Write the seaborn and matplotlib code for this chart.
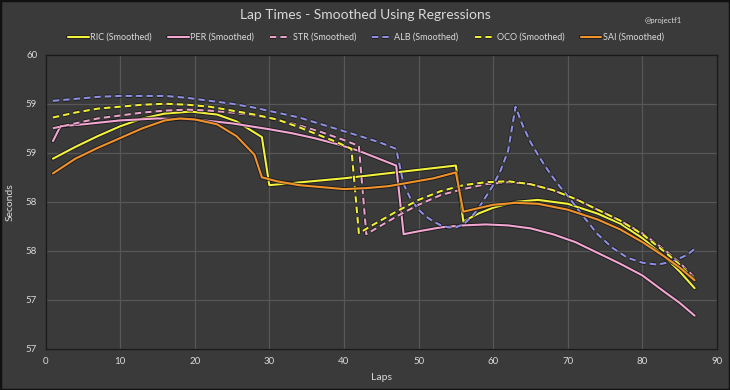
import numpy as np
import pandas as pd
import seaborn as sns
import matplotlib
matplotlib.use("Agg")
import matplotlib.pyplot as plt
import matplotlib.patheffects as pe
from matplotlib.patches import Rectangle

# ---------------- data ----------------
ric_laps = [1, 4, 7, 10, 13, 16, 19.5, 23, 25.6, 29, 30, 40, 55, 56, 58, 60, 63, 66, 70, 74, 77, 80, 83, 85, 87]
ric_secs = [58.94, 59.06, 59.17, 59.27, 59.35, 59.40, 59.42, 59.39, 59.32, 59.16, 58.67, 58.74, 58.87, 58.30, 58.38,
            58.44, 58.50, 58.52, 58.48, 58.38, 58.28, 58.13, 57.94, 57.79, 57.62]

per_laps = [1, 2, 5, 10, 15, 20, 25, 30, 33, 36, 39, 42, 47, 48, 50, 53, 56, 59, 62, 65, 68, 71, 74, 77, 80, 83, 85, 87]
per_secs = [59.12, 59.27, 59.29, 59.33, 59.35, 59.34, 59.30, 59.24, 59.20, 59.15, 59.09, 59.02, 58.87, 58.17, 58.20,
            58.24, 58.26, 58.27, 58.26, 58.23, 58.17, 58.09, 57.98, 57.87, 57.75, 57.58, 57.47, 57.34]

str_laps = [1, 4, 7, 10, 13, 16, 19, 22, 25, 28, 31, 34, 37, 40, 42, 43, 45, 47.5, 50, 53, 56, 59, 62, 65, 68, 71,
            74, 77, 80, 83, 85, 87]
str_secs = [59.25, 59.30, 59.35, 59.38, 59.41, 59.43, 59.44, 59.43, 59.41, 59.38, 59.34, 59.28, 59.21, 59.13, 59.07,
            58.17, 58.26, 58.37, 58.47, 58.57, 58.63, 58.68, 58.70, 58.68, 58.62, 58.53, 58.42, 58.31, 58.18, 58.01,
            57.88, 57.73]

alb_laps = [1, 4, 7, 10, 13, 16, 19, 22, 25, 28, 31, 34, 37, 40, 43, 45, 47, 48, 49, 50, 51, 52, 53, 54, 55, 56, 57,
            58, 59, 60, 61, 62, 63, 64, 65, 66, 67, 68, 69, 70, 72, 74, 76, 78, 80, 82, 84, 86, 87]
alb_secs = [59.53, 59.55, 59.57, 59.58, 59.58, 59.58, 59.56, 59.53, 59.50, 59.46, 59.41, 59.36, 59.29, 59.22, 59.15,
            59.10, 59.04, 58.68, 58.52, 58.42, 58.35, 58.30, 58.26, 58.24, 58.24, 58.27, 58.34, 58.43, 58.55, 58.67,
            58.82, 59.02, 59.47, 59.27, 59.11, 58.98, 58.86, 58.75, 58.65, 58.56, 58.36, 58.17, 58.03, 57.93, 57.88,
            57.86, 57.89, 57.96, 58.02]

oco_laps = [1, 4, 7, 10, 13, 16, 19, 22, 25, 28, 31, 34, 37, 39, 41, 42, 44, 47, 50, 53, 56, 59, 62, 65, 68, 71, 74,
            77, 80, 83, 85, 87]
oco_secs = [59.36, 59.41, 59.45, 59.47, 59.49, 59.50, 59.49, 59.47, 59.43, 59.39, 59.34, 59.26, 59.17, 59.11, 59.04,
            58.18, 58.27, 58.40, 58.52, 58.61, 58.67, 58.70, 58.71, 58.68, 58.62, 58.53, 58.42, 58.31, 58.17, 57.99,
            57.86, 57.71]

sai_laps = [1, 4, 7, 10, 13, 16, 18, 20, 23, 25.6, 28, 29, 31, 34, 37, 40, 43, 46, 49, 52, 55, 56, 60, 63, 66, 70,
            74, 77, 80, 83, 85, 87]
sai_secs = [58.79, 58.94, 59.05, 59.15, 59.25, 59.33, 59.35, 59.34, 59.29, 59.17, 58.98, 58.75, 58.71, 58.67, 58.65,
            58.63, 58.64, 58.66, 58.70, 58.74, 58.80, 58.40, 58.47, 58.49, 58.48, 58.42, 58.32, 58.22, 58.09, 57.94,
            57.83, 57.70]

drivers = ["RIC", "PER", "STR", "ALB", "OCO", "SAI"]
series = {"RIC": (ric_laps, ric_secs), "PER": (per_laps, per_secs), "STR": (str_laps, str_secs),
          "ALB": (alb_laps, alb_secs), "OCO": (oco_laps, oco_secs), "SAI": (sai_laps, sai_secs)}

y_ticks = [57, 57.5, 58, 58.5, 59, 59.5, 60]
y_tick_labels = ["57", "57", "58", "58", "59", "59", "60"]
x_ticks = [0, 10, 20, 30, 40, 50, 60, 70, 80, 90]

# ---------------- style ----------------
BG = "#3a3a3a"
GRID = "#575757"
TXT = "#d9d9d9"
colors = {"RIC": "#f3f23c", "PER": "#f2a6d2", "STR": "#eba2c9",
          "ALB": "#8e8fe2", "OCO": "#eeee35", "SAI": "#f0922c"}
dashed = {"RIC": False, "PER": False, "STR": True, "ALB": True, "OCO": True, "SAI": False}

rows = []
for d in drivers:
    laps, secs = series[d]
    for l, s in zip(laps, secs):
        rows.append({"Lap": l, "Seconds": s, "Driver": f"{d} (Smoothed)"})
df = pd.DataFrame(rows)

sns.set_theme(style="dark")
plt.rcParams["font.family"] = ["Lato", "DejaVu Sans"]

fig = plt.figure(figsize=(7.3, 3.9), dpi=100, facecolor=BG)
ax = fig.add_axes([45.5 / 730, 1 - 349 / 390, (717 - 45.5) / 730, (349 - 54.7) / 390])
ax.set_facecolor(BG)

palette = {f"{d} (Smoothed)": colors[d] for d in drivers}
dash_map = {f"{d} (Smoothed)": ((3, 2) if dashed[d] else "") for d in drivers}

sns.lineplot(data=df, x="Lap", y="Seconds", hue="Driver", style="Driver",
             palette=palette, dashes=dash_map, estimator=None, sort=False,
             linewidth=1.5, ax=ax, legend=True)

effects = [pe.Stroke(linewidth=2.8, foreground="#111111", alpha=0.75), pe.Normal()]
for ln in ax.lines:
    ln.set_path_effects(effects)

ax.set_xlim(0, 90)
ax.set_ylim(57, 60)
ax.set_xticks(x_ticks)
ax.set_xticklabels([str(t) for t in x_ticks])
ax.set_yticks(y_ticks)
ax.set_yticklabels(y_tick_labels)
ax.tick_params(colors=TXT, labelsize=7, length=0, pad=6)
ax.grid(True, color=GRID, linewidth=0.9)
for sp in ax.spines.values():
    sp.set_color("#1a1a1a")
    sp.set_linewidth(1.0)
    sp.set_visible(True)

ax.set_xlabel("Laps", color=TXT, fontsize=7.5, labelpad=5)
ax.set_ylabel("Seconds", color=TXT, fontsize=7.5, labelpad=8)

handles, labels = ax.get_legend_handles_labels()
ax.get_legend().remove()
leg = fig.legend(handles, labels, loc="center", bbox_to_anchor=(366 / 730, 1 - 37.5 / 390), ncol=6,
                 frameon=False, fontsize=6.5, handlelength=2.3, handletextpad=0.15, columnspacing=1.8)
for t in leg.get_texts():
    t.set_color(TXT)
for h in leg.legend_handles:
    h.set_linewidth(1.5)
    h.set_path_effects(effects)

fig.text(365 / 730, 1 - 15 / 390, "Lap Times - Smoothed Using Regressions", ha="center", va="center",
         color=TXT, fontsize=10)
fig.text(663 / 730, 1 - 21 / 390, "@projectf1", ha="center", va="center", color=TXT, fontsize=5.5)

fig.add_artist(Rectangle((0, 0), 1, 1, transform=fig.transFigure, fill=False,
                         edgecolor="#111111", linewidth=2.5))

fig.savefig("out.png", dpi=100, facecolor=BG)
